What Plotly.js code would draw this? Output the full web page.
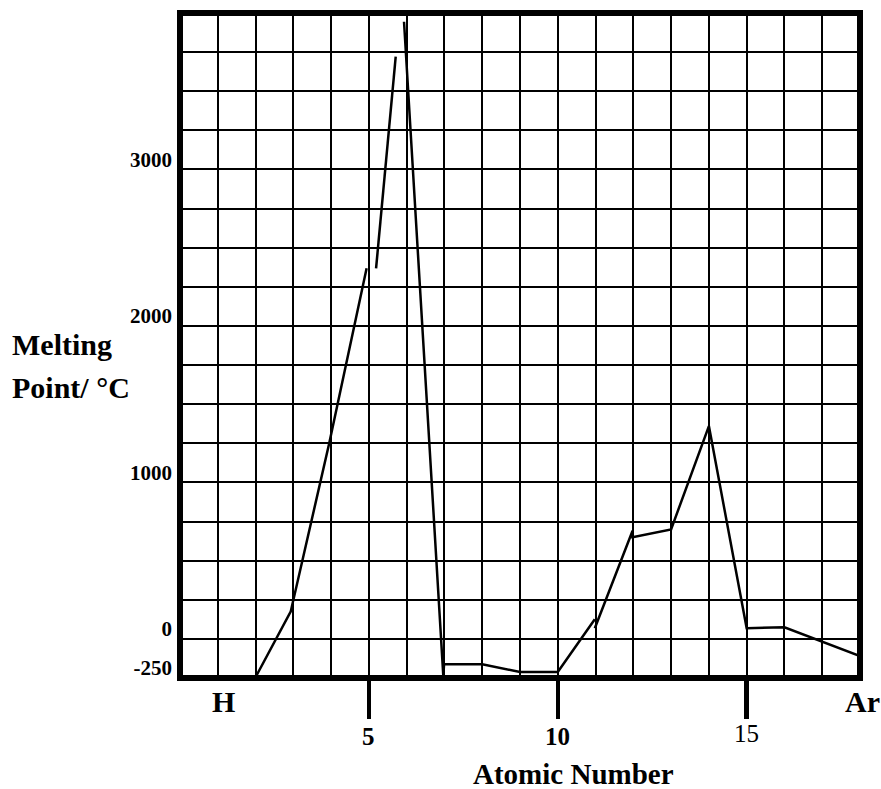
<!DOCTYPE html>
<html>
<head>
<meta charset="utf-8">
<script src="https://cdn.plot.ly/plotly-3.0.1.min.js"></script>
<style>html,body{margin:0;padding:0;background:#fff;}#chart{width:881px;height:789px;}</style>
</head>
<body>
<div id="chart"></div>
<script>
// Atomic number (x) and melting point (°C) as drawn; nulls are the gaps in the hand-drawn line
var atomicNumber = [2, 2.93, 3.95, 4.94, null, 5.19, 5.71, null, 5.93, 6.97, 6.99, 8, 9, 10, 10.98, null, 10.98, 11.98, 11.98, 13, 14, 15, 16, 18];
var meltingPoint = [-245, 174, 1250, 2368, null, 2368, 3721, null, 3944, -237, -162, -162, -212, -212, 125, null, 68, 691, 649, 700, 1360, 68, 74, -110];

var xTickVals = [5, 10, 15];
var xLabelVals = [1, 5, 10, 15, 18];
var xLabelText = ['H', '5', '10', '15', 'Ar'];
var yTickVals = [-250, 0, 1000, 2000, 3000];
var yTickText = ['-250', '0', '1000', '2000', '3000'];

var serif = 'Liberation Serif, Times New Roman, serif';

var trace = {
  x: atomicNumber,
  y: meltingPoint,
  type: 'scatter',
  mode: 'lines',
  connectgaps: false,
  line: {color: '#000', width: 2.5},
  hoverinfo: 'skip',
  showlegend: false
};

var annotations = [];
xLabelVals.forEach(function (v, i) {
  var txt = xLabelText[i];
  var isSymbol = isNaN(Number(txt));
  var plain = (txt === '15');
  var a = {
    x: v, xref: 'x', y: 0, yref: 'paper', yanchor: 'middle', xanchor: 'center',
    showarrow: false,
    text: plain ? txt : '<b>' + txt + '</b>',
    font: {family: serif, size: isSymbol ? 30 : 25, color: '#000'}
  };
  if (isSymbol) {
    a.yshift = -23;
    a.xshift = (i === 0) ? 6 : 2;
  } else {
    a.yshift = plain ? -55 : -58;
  }
  annotations.push(a);
});
annotations.push({
  x: (573 - 180) / 680, xref: 'paper', y: 0, yref: 'paper', showarrow: false,
  text: '<b>Atomic Number</b>', xanchor: 'center', yanchor: 'middle', yshift: -96,
  font: {family: serif, size: 29, color: '#000'}
});
annotations.push({
  x: (10 - 180) / 680, xref: 'paper', y: (678 - 345) / 665, yref: 'paper', showarrow: false,
  text: '<b>Melting</b>', xanchor: 'left', yanchor: 'middle',
  font: {family: serif, size: 30, color: '#000'}
});
annotations.push({
  x: (10 - 180) / 680, xref: 'paper', y: (678 - 387) / 665, yref: 'paper', showarrow: false,
  text: '<b>Point/ °C</b>', xanchor: 'left', yanchor: 'middle',
  font: {family: serif, size: 30, color: '#000'}
});

var layout = {
  width: 881, height: 789,
  margin: {l: 180, r: 21, t: 13, b: 111, pad: 0},
  paper_bgcolor: '#fff', plot_bgcolor: '#fff',
  xaxis: {
    range: [0, 18], fixedrange: true,
    tickmode: 'array', tickvals: xTickVals, showticklabels: false,
    ticks: 'outside', ticklen: 40, tickwidth: 4.5, tickcolor: '#000',
    showgrid: true, gridcolor: '#000', gridwidth: 2,
    minor: {tickmode: 'linear', tick0: 0, dtick: 1, showgrid: true, gridcolor: '#000', gridwidth: 2, ticks: ''},
    zeroline: false, showline: false
  },
  yaxis: {
    range: [-250, 4000], fixedrange: true,
    tickmode: 'array', tickvals: yTickVals, ticktext: yTickText,
    ticks: '', ticklabelshift: -10, ticklabelstandoff: 7,
    tickfont: {family: serif, size: 21, color: '#000', weight: 'bold'},
    showgrid: true, gridcolor: '#000', gridwidth: 2,
    minor: {tickmode: 'linear', tick0: 0, dtick: 250, showgrid: true, gridcolor: '#000', gridwidth: 2, ticks: ''},
    zeroline: false, showline: false
  },
  shapes: [{
    type: 'rect', xref: 'paper', yref: 'paper', x0: 0, x1: 1, y0: 0, y1: 1,
    line: {color: '#000', width: 6}, fillcolor: 'rgba(0,0,0,0)', layer: 'above'
  }],
  annotations: annotations
};

Plotly.newPlot('chart', [trace], layout, {displayModeBar: false, staticPlot: true});
</script>
</body>
</html>
